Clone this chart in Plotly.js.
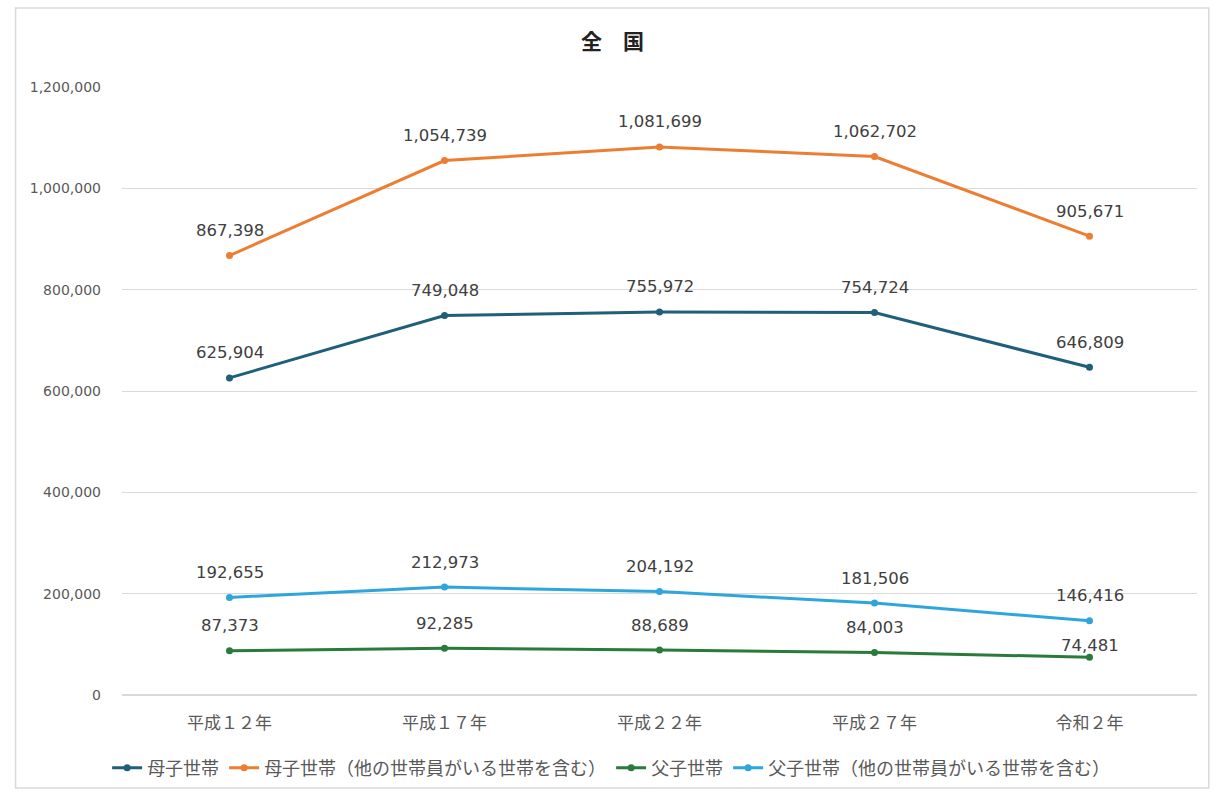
<!DOCTYPE html>
<html><head><meta charset="utf-8">
<script src="https://cdn.plot.ly/plotly-3.0.1.min.js"></script>
<style>html,body{margin:0;padding:0;background:#fff;}#chart{width:1213px;height:792px;}</style>
</head><body><div id="chart"></div>
<script>
const categories = ['平成１２年','平成１７年','平成２２年','平成２７年','令和２年'];
const boshi = [625904, 749048, 755972, 754724, 646809];
const boshiAll = [867398, 1054739, 1081699, 1062702, 905671];
const fushi = [87373, 92285, 88689, 84003, 74481];
const fushiAll = [192655, 212973, 204192, 181506, 146416];
const seriesNames = ['母子世帯','母子世帯（他の世帯員がいる世帯を含む）','父子世帯','父子世帯（他の世帯員がいる世帯を含む）'];
const yTicks = [0,200000,400000,600000,800000,1000000,1200000];

const colors = ['#1f5f7a','#ed7d31','#2a7a3b','#2ea6dd'];
const fmt = v => v.toLocaleString('en-US');
const allSeries = [boshi, boshiAll, fushi, fushiAll];
const data = allSeries.map((vals,i)=>({
  type:'scatter', mode:'lines+markers', x:categories, y:vals, name:seriesNames[i],
  line:{color:colors[i], width:3}, marker:{color:colors[i], size:7},
  cliponaxis:false
}));
const annotations = [];
allSeries.forEach((vals,i)=>{
  vals.forEach((v,j)=>{
    const tight = (i===2 && j===vals.length-1);
    annotations.push({x:categories[j], y:v, xref:'x', yref:'y', text:fmt(v), showarrow:false,
      yshift: tight ? 12 : 25, yanchor:'middle',
      font:{family:'DejaVu Sans, sans-serif', size:16.5, color:'#404040'}});
  });
});
const layout = {
  width:1213, height:792, paper_bgcolor:'#fff', plot_bgcolor:'#fff',
  margin:{l:122, r:16, t:87, b:97, autoexpand:false},
  title:{text:'<b>全　国</b>', x:0.505, xanchor:'center', y:0.947, yanchor:'middle',
    font:{family:'Noto Sans CJK JP', size:21, color:'#222'}},
  showlegend:true,
  legend:{orientation:'h', x:0.455, xanchor:'center', y:-0.12, yanchor:'middle',
    font:{family:'Noto Sans CJK JP', size:18, color:'#595959'}, traceorder:'normal', itemwidth:30},
  xaxis:{type:'category', range:[-0.5,4.5], showgrid:false, zeroline:false, showline:false, ticks:'',
    ticklabelstandoff:16,
    tickfont:{family:'Noto Sans CJK JP', size:17, color:'#595959'}},
  yaxis:{range:[0,1200000], tickvals:yTicks, ticktext:yTicks.map(fmt), showgrid:true,
    gridcolor:'#d9d9d9', gridwidth:1, zeroline:true, zerolinecolor:'#d9d9d9', zerolinewidth:1.5,
    showline:false, ticks:'', ticklabelstandoff:20,
    tickfont:{family:'DejaVu Sans, sans-serif', size:14, color:'#595959'}},
  annotations: annotations,
  shapes:[{type:'rect', xref:'paper', yref:'paper', x0:-0.099, x1:1.011, y0:-0.153, y1:1.13,
    line:{color:'#d9d9d9', width:1.5}, fillcolor:'rgba(0,0,0,0)'}]
};
Plotly.newPlot('chart', data, layout, {displayModeBar:false});
</script></body></html>
